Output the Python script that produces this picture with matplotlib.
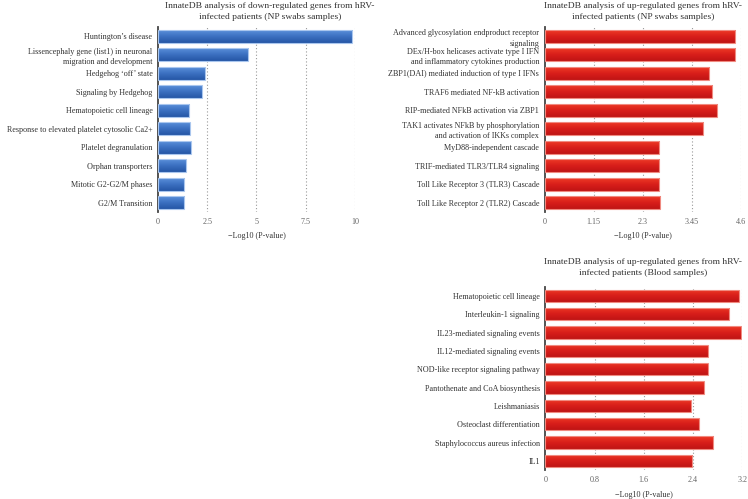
import numpy as np
import matplotlib
matplotlib.use("Agg")
import matplotlib.pyplot as plt
from matplotlib.colors import LinearSegmentedColormap

plt.rcParams["font.family"] = ["Liberation Serif", "DejaVu Serif"]

# ── data
down_np_terms = [
    "Huntington\u2019s disease",
    "Lissencephaly gene (list1) in neuronal\nmigration and development",
    "Hedgehog \u2018off\u2019 state",
    "Signaling by Hedgehog",
    "Hematopoietic cell lineage",
    "Response to elevated platelet cytosolic Ca2+",
    "Platelet degranulation",
    "Orphan transporters",
    "Mitotic G2-G2/M phases",
    "G2/M Transition",
]
down_np_values = [9.85, 4.57, 2.37, 2.23, 1.59, 1.62, 1.66, 1.42, 1.32, 1.32]
down_np_ticks = [0, 2.5, 5, 7.5, 10]
down_np_ticklabels = ["0", "2.5", "5", "7.5", "10"]

up_np_terms = [
    "Advanced glycosylation endproduct receptor\nsignaling",
    "DEx/H-box helicases activate type I IFN\nand inflammatory cytokines production",
    "ZBP1(DAI) mediated induction of type I IFNs",
    "TRAF6 mediated NF-kB activation",
    "RIP-mediated NFkB activation via ZBP1",
    "TAK1 activates NFkB by phosphorylation\nand activation of IKKs complex",
    "MyD88-independent cascade",
    "TRIF-mediated TLR3/TLR4 signaling",
    "Toll Like Receptor 3 (TLR3) Cascade",
    "Toll Like Receptor 2 (TLR2) Cascade",
]
up_np_values = [4.45, 4.45, 3.84, 3.91, 4.03, 3.71, 2.68, 2.68, 2.68, 2.70]
up_np_ticks = [0, 1.15, 2.3, 3.45, 4.6]
up_np_ticklabels = ["0", "1.15", "2.3", "3.45", "4.6"]

up_blood_terms = [
    "Hematopoietic cell lineage",
    "Interleukin-1 signaling",
    "IL23-mediated signaling events",
    "IL12-mediated signaling events",
    "NOD-like receptor signaling pathway",
    "Pantothenate and CoA biosynthesis",
    "Leishmaniasis",
    "Osteoclast differentiation",
    "Staphylococcus aureus infection",
    "IL1",
]
up_blood_values = [3.14, 2.99, 3.18, 2.64, 2.64, 2.57, 2.37, 2.49, 2.73, 2.39]
up_blood_ticks = [0, 0.8, 1.6, 2.4, 3.2]
up_blood_ticklabels = ["0", "0.8", "1.6", "2.4", "3.2"]

BLUE = LinearSegmentedColormap.from_list("blue", ["#2556a6", "#3b6fc0", "#5a8fda"])
RED = LinearSegmentedColormap.from_list("red", ["#bf1414", "#d81e1a", "#ee3a26"])
TEXT = "#333333"
FS = 5.9


def bar_panel(fig, rect, terms, values, ticks, ticklabels, xmax, cmap, edge):
    ax = fig.add_axes(rect)
    y = np.arange(len(terms))
    bars = ax.barh(y, values, height=0.68, color="none", edgecolor=edge,
                   linewidth=0.8, zorder=3)
    # vertical gradient inside each bar
    grad = np.linspace(0, 1, 64).reshape(-1, 1)
    for b in bars:
        x0, y0 = b.get_x(), b.get_y()
        im = ax.imshow(grad, extent=[x0, x0 + b.get_width(), y0 + b.get_height(), y0],
                       aspect="auto", cmap=cmap, origin="lower", zorder=2)
        im.set_clip_path(b)
    ax.set_xlim(0, xmax)
    ax.set_ylim(len(terms) - 0.5, -0.5)
    ax.set_yticks(y)
    ax.set_yticklabels(terms, fontsize=FS, color=TEXT, linespacing=1.45)
    ax.set_xticks(ticks)
    ax.set_xticklabels(ticklabels, fontsize=FS, color="#666666")
    ax.tick_params(length=0, pad=4)
    ax.tick_params(axis="y", pad=4)
    for t in ticks[1:]:
        ax.axvline(t, color="#999999", linestyle=(0, (1, 2)), linewidth=0.8, zorder=1)
    for s in ["top", "right", "bottom"]:
        ax.spines[s].set_visible(False)
    ax.spines["left"].set_color("#444444")
    ax.spines["left"].set_linewidth(1.3)
    ax.set_xlabel("\u2212Log10 (P-value)", fontsize=FS, color=TEXT, labelpad=5)
    return ax


fig = plt.figure(figsize=(7.48, 4.99), dpi=100)

ax1 = bar_panel(fig, [0.2112, 0.5752, 0.2634, 0.3707], down_np_terms, down_np_values,
                down_np_ticks, down_np_ticklabels, 10, BLUE, "#a9c6ee")
fig.text(270 / 748, 1 - 2.5 / 499,
         "InnateDB analysis of down-regulated genes from hRV-\ninfected patients (NP swabs samples)",
         ha="center", va="top", fontsize=6.8, color=TEXT, linespacing=1.4)

ax2 = bar_panel(fig, [0.7282, 0.5752, 0.2628, 0.3707], up_np_terms, up_np_values,
                up_np_ticks, up_np_ticklabels, 4.6, RED, "#f08a80")
fig.text(643 / 748, 1 - 2.5 / 499,
         "InnateDB analysis of up-regulated genes from hRV-\ninfected patients (NP swabs samples)",
         ha="center", va="top", fontsize=6.8, color=TEXT, linespacing=1.4)

ax3 = bar_panel(fig, [0.729, 0.0581, 0.2634, 0.3673], up_blood_terms, up_blood_values,
                up_blood_ticks, up_blood_ticklabels, 3.2, RED, "#f08a80")
fig.text(643 / 748, 1 - 258.5 / 499,
         "InnateDB analysis of up-regulated genes from hRV-\ninfected patients (Blood samples)",
         ha="center", va="top", fontsize=6.8, color=TEXT, linespacing=1.4)

fig.savefig("out.png", dpi=100)
